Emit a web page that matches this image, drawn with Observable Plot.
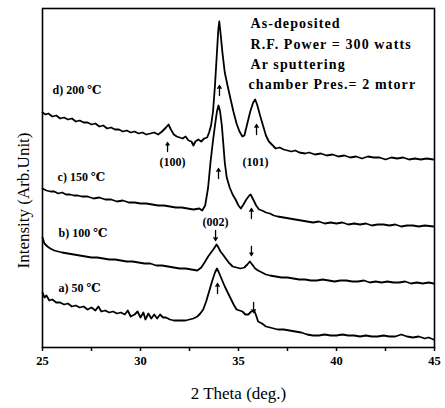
<!DOCTYPE html>
<html>
<head>
<meta charset="utf-8">
<script src="https://cdn.jsdelivr.net/npm/d3@7"></script>
<script src="https://cdn.jsdelivr.net/npm/@observablehq/plot@0.6"></script>
<style>
  html, body { margin: 0; padding: 0; background: #fff; }
  #chart svg { display: block; }
</style>
</head>
<body>
<div id="chart"></div>
<script>
// ---- Data (2θ in degrees, intensity in arbitrary units) ----
const xTicks = [25, 30, 35, 40, 45];
const xMinorTicks = [27.5, 32.5, 37.5, 42.5];

const thetaD = [25.0,25.15,25.3,25.5,25.7,25.9,26.1,26.3,26.5,26.7,26.9,27.1,27.3,27.5,27.7,27.9,28.1,28.3,28.5,28.7,28.9,29.1,29.3,29.5,29.7,29.9,30.1,30.3,30.5,30.7,30.9,31.1,31.3,31.43,31.55,31.7,31.85,32.0,32.15,32.3,32.45,32.6,32.7,32.8,32.95,33.1,33.25,33.4,33.5,33.6,33.7,33.8,33.9,33.97,34.02,34.08,34.18,34.3,34.44,34.6,34.74,34.9,35.05,35.2,35.3,35.45,35.6,35.75,35.85,35.95,36.1,36.25,36.4,36.55,36.75,36.9,37.1,37.3,37.5,37.7,37.9,38.1,38.4,38.6,38.9,39.2,39.5,39.8,40.1,40.4,40.7,41.0,41.3,41.6,41.9,42.2,42.5,42.8,43.1,43.4,43.7,44.0,44.3,44.6,44.95];
const intD   = [235,233,234,231,232,229,230,228,229,226,227,225,225,223,224,221,222,219,220,218,218,216,217,215,216,214,215,213,214,215,213,216,220,223,218,213,211,210,209,211,207,206,202,206,208,206,209,210,215,222,236,262,295,318,326,315,295,275,262,248,236,224,216,211,212,224,236,245,248,243,232,222,212,206,202,199,200,198,197,196,197,195,194,195,193,194,192,193,191,192,190,191,189,191,190,190,188,190,189,190,188,189,188,189,188];

const thetaC = [25.0,25.2,25.4,25.6,25.8,26.0,26.2,26.4,26.6,26.8,27.0,27.3,27.6,27.9,28.2,28.5,28.8,29.1,29.4,29.7,30.0,30.3,30.6,30.9,31.2,31.5,31.8,32.1,32.4,32.7,33.0,33.15,33.3,33.45,33.57,33.7,33.8,33.9,33.98,34.06,34.15,34.22,34.3,34.4,34.55,34.7,34.85,35.0,35.12,35.25,35.4,35.55,35.62,35.75,35.9,36.05,36.2,36.4,36.6,36.8,37.0,37.3,37.6,37.9,38.2,38.5,38.8,39.1,39.4,39.7,40.0,40.3,40.6,40.9,41.2,41.5,41.8,42.1,42.4,42.7,43.0,43.3,43.6,43.9,44.2,44.5,44.95];
const intC   = [159,157,156,156,154,155,153,153,152,152,151,151,149,150,148,148,146,147,145,145,144,144,143,142,142,141,140,140,139,138,139,137,142,160,185,207,222,236,242,236,222,205,185,170,160,153,148,142,139,143,148,152,153,148,142,138,137,135,134,132,131,130,129,128,127,126,125,126,124,125,124,125,123,124,123,124,122,123,123,122,123,121,122,122,121,122,121];

const thetaB = [25.0,25.1,25.25,25.4,25.6,25.8,26.0,26.3,26.6,26.9,27.2,27.5,27.8,28.1,28.4,28.7,29.0,29.3,29.6,29.9,30.2,30.5,30.8,31.1,31.4,31.7,32.0,32.3,32.6,32.9,33.1,33.3,33.45,33.6,33.75,33.88,33.95,34.08,34.2,34.35,34.5,34.7,34.9,35.1,35.3,35.45,35.58,35.7,35.85,36.0,36.2,36.4,36.6,36.9,37.2,37.5,37.8,38.1,38.4,38.7,39.0,39.3,39.6,39.9,40.2,40.5,40.8,41.1,41.4,41.7,42.0,42.3,42.6,42.9,43.2,43.5,43.8,44.1,44.4,44.7,44.95];
const intB   = [110,104,101,99,97,96,95,94,93,92,91,90,90,89,88,88,87,86,86,85,84,84,82,82,81,80,79,79,78,77,80,86,91,95,99,103,101,96,93,89,85,81,80,79,80,83,86,83,79,77,75,73,72,71,70,70,69,68,68,67,67,68,67,66,67,67,66,66,67,65,66,65,66,65,65,66,64,65,64,65,64];

const thetaA = [25.0,25.1,25.2,25.35,25.5,25.7,25.9,26.1,26.3,26.5,26.7,26.9,27.1,27.3,27.5,27.7,27.85,28.0,28.2,28.4,28.6,28.8,29.0,29.2,29.35,29.5,29.7,29.85,30.0,30.15,30.25,30.4,30.55,30.7,30.85,31.0,31.15,31.3,31.5,31.7,31.9,32.1,32.3,32.5,32.7,32.9,33.05,33.2,33.35,33.5,33.65,33.8,33.9,34.0,34.15,34.3,34.45,34.6,34.75,34.9,35.05,35.2,35.35,35.5,35.65,35.8,35.9,36.0,36.2,36.4,36.6,36.8,37.0,37.3,37.6,37.9,38.2,38.5,38.8,39.1,39.4,39.7,40.0,40.3,40.6,40.9,41.2,41.5,41.8,42.1,42.4,42.7,43.0,43.3,43.6,43.9,44.2,44.5,44.7,44.95];
const intA   = [55,50,52,47,48,45,45,43,44,41,42,40,41,38,40,37,41,36,37,35,36,34,35,33,37,31,33,36,30,35,28,34,29,33,29,33,30,30,28,27,27,27,27,28,29,31,34,38,46,56,66,75,79,75,68,61,55,49,43,38,37,36,33,33,36,37,32,26,24,21,20,19,18,18,17,16,15,13,12,12,13,12,12,13,12,12,11,12,11,11,12,11,11,13,11,10,11,9,10,8];

const sampleLabels = ["a) 50 ℃", "b) 100 ℃", "c) 150 ℃", "d) 200 ℃"];
const sampleLabelX = [25.82, 25.82, 25.77, 25.51];
const sampleLabelY = [56, 111, 167, 254];

const peakLabels = ["(100)", "(101)", "(002)"];
const peakLabelX = [31.63, 35.87, 33.83];
const peakLabelY = [182, 182, 122];

// small arrows marking the peaks: x, from-y, to-y
const arrowX  = [31.38, 34.03, 35.92, 33.98, 35.66, 33.83, 35.66, 33.93, 35.77];
const arrowY1 = [196,   252,   213,   169,   129,   117,   101,   54,    45];
const arrowY2 = [205,   262,   223,   179,   139,   107,   92,    64,    35];

const infoLines = ["As-deposited", "R.F. Power = 300 watts", "Ar sputtering", "chamber Pres.= 2 mtorr"];
const infoX = [35.61, 35.61, 35.61, 35.51];
const infoY = [320, 299, 279, 259];

const xLabel = "2 Theta (deg.)";
const yLabel = "Intensity (Arb.Unit)";
const yLabelPos = {x: 24.29, y: 147};

// ---- Build tables ----
const series = [
  ["d", thetaD, intD], ["c", thetaC, intC], ["b", thetaB, intB], ["a", thetaA, intA]
].flatMap(([s, th, it]) => th.map((t, i) => ({series: s, theta: t, intensity: it[i]})));
const sampleTable = sampleLabels.map((t, i) => ({text: t, x: sampleLabelX[i], y: sampleLabelY[i]}));
const peakTable = peakLabels.map((t, i) => ({text: t, x: peakLabelX[i], y: peakLabelY[i]}));
const arrowTable = arrowX.map((x, i) => ({x, y1: arrowY1[i], y2: arrowY2[i]}));
const infoTable = infoLines.map((t, i) => ({text: t, x: infoX[i], y: infoY[i]}));

const serif = "'Liberation Serif', 'DejaVu Serif', serif";

const chart = Plot.plot({
  width: 445,
  height: 408,
  marginLeft: 42,
  marginRight: 11,
  marginTop: 8,
  marginBottom: 61,
  style: {background: "#fff", color: "#000", fontFamily: serif},
  x: {domain: [25, 45]},
  y: {domain: [0, 339], axis: null},
  marks: [
    Plot.frame({stroke: "#000", strokeWidth: 1.6}),
    Plot.axisX({ticks: xMinorTicks, tickSize: 4, tickFormat: () => "", strokeWidth: 1.5}),
    Plot.axisX({ticks: xTicks, tickSize: 4, tickPadding: 5, tickFormat: d => String(d),
      fontSize: 12.5, fontWeight: "bold", strokeWidth: 1.5, label: null}),
    Plot.line(series, {x: "theta", y: "intensity", z: "series", stroke: "#000", strokeWidth: 1.8,
      strokeLinejoin: "round"}),
    Plot.arrow(arrowTable, {x: "x", y1: "y1", y2: "y2", stroke: "#000", strokeWidth: 1.3, headLength: 4}),
    Plot.text(sampleTable, {x: "x", y: "y", text: "text", textAnchor: "start", lineAnchor: "bottom",
      fontSize: 12, fontWeight: "bold", fill: "#000"}),
    Plot.text(peakTable, {x: "x", y: "y", text: "text", textAnchor: "middle", lineAnchor: "bottom",
      fontSize: 12, fontWeight: "bold", fill: "#000"}),
    Plot.text(infoTable, {x: "x", y: "y", text: "text", textAnchor: "start", lineAnchor: "bottom",
      fontSize: 14, fontWeight: "bold", fill: "#000"}),
    Plot.text([xLabel], {frameAnchor: "bottom", dy: 51, lineAnchor: "bottom", fontSize: 17, fill: "#000"}),
    Plot.text([yLabel], {x: () => yLabelPos.x, y: () => yLabelPos.y, rotate: -90, lineAnchor: "bottom",
      fontSize: 17, fill: "#000"})
  ]
});
// letter spacing for the info box text
d3.select(chart).selectAll("g[aria-label=text]").filter((d, i) => i === 2).attr("letter-spacing", "1.1px");
document.getElementById("chart").appendChild(chart);
</script>
</body>
</html>
